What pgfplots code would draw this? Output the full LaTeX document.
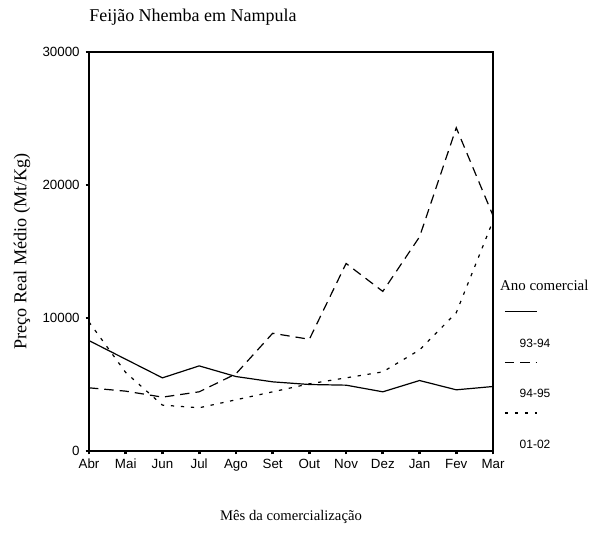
\documentclass[border=0pt]{standalone}
\usepackage{fontspec}
\setmainfont{Liberation Serif}
\newfontfamily\arial{Liberation Sans}
\usepackage{pgfplots}
\pgfplotsset{compat=1.18}
\begin{document}
\begin{tikzpicture}
\path[use as bounding box] (-66.75pt,-61.5pt) rectangle (383.25pt,338.25pt);
\begin{axis}[
  at={(0pt,0pt)}, anchor=south west,
  scale only axis, width=303pt, height=299.25pt,
  xmin=0, xmax=11, ymin=0, ymax=30000,
  xtick={0,...,11},
  xticklabels={Abr,Mai,Jun,Jul,Ago,Set,Out,Nov,Dez,Jan,Fev,Mar},
  ytick={0,10000,20000,30000},
  scaled y ticks=false,
  /pgf/number format/assume math mode=true,
  /pgf/number format/set thousands separator={},
  xtick pos=left, ytick pos=left,
  tick align=outside, major tick length=2.5pt,
  tick style={line width=2pt, black},
  axis line style={line width=1.1pt},
  ticklabel style={font=\arial\fontsize{10}{12}\selectfont},
  yticklabel style={xshift=-1pt},
  title={Feijão Nhemba em Nampula},
  title style={at={(axis description cs:0,1.066)}, anchor=west, inner sep=0pt, font=\fontsize{13.5}{15}\selectfont},
  xlabel={Mês da comercialização},
  xlabel style={at={(axis description cs:0.5,-0.165)}, anchor=center, font=\fontsize{11}{12}\selectfont},
  ylabel={Preço Real Médio (Mt/Kg)},
  ylabel style={at={(axis description cs:-0.166,0.5)}, anchor=center, font=\fontsize{13.6}{15}\selectfont},
  clip=false,
  legend style={draw=none, fill=none, inner sep=0pt, outer sep=0pt,
    at={(rel axis cs:1.0297,0.289)}, anchor=north west,
    row sep=26pt, column sep=0pt,
    font=\arial\fontsize{9}{11}\selectfont,
    cells={anchor=west, inner sep=0pt, outer sep=0pt, text height=6.5pt, text depth=0pt}},
  legend image code/.code={\draw[#1,overlay] (0pt,24pt) -- (24pt,24pt); \path[draw=none] (0pt,0pt) -- (9pt,0pt);},
]
\addplot[black, line width=0.9pt] coordinates {
(0,8300) (1,6900) (2,5500) (3,6400) (4,5600) (5,5200) (6,5000) (7,4950) (8,4450) (9,5300) (10,4600) (11,4850)};
\addlegendentry{93-94}
\addplot[black, line width=0.9pt, dash pattern=on 7pt off 4.5pt] coordinates {
(0,4750) (1,4500) (2,4050) (3,4450) (4,5800) (5,8850) (6,8400) (7,14100) (8,12000) (9,16100) (10,24300) (11,17700)};
\addlegendentry{94-95}
\addplot[black, line width=0.9pt, dash pattern=on 2.5pt off 5pt] coordinates {
(0,9700) (1,5900) (2,3450) (3,3250) (4,3850) (5,4450) (6,5050) (7,5500) (8,5950) (9,7600) (10,10400) (11,17300)};
\addlegendentry{01-02}
\node[anchor=west, inner sep=0pt, font=\fontsize{11.2}{13}\selectfont] at (rel axis cs:1.017,0.4156) {Ano comercial};
\end{axis}
\end{tikzpicture}
\end{document}
